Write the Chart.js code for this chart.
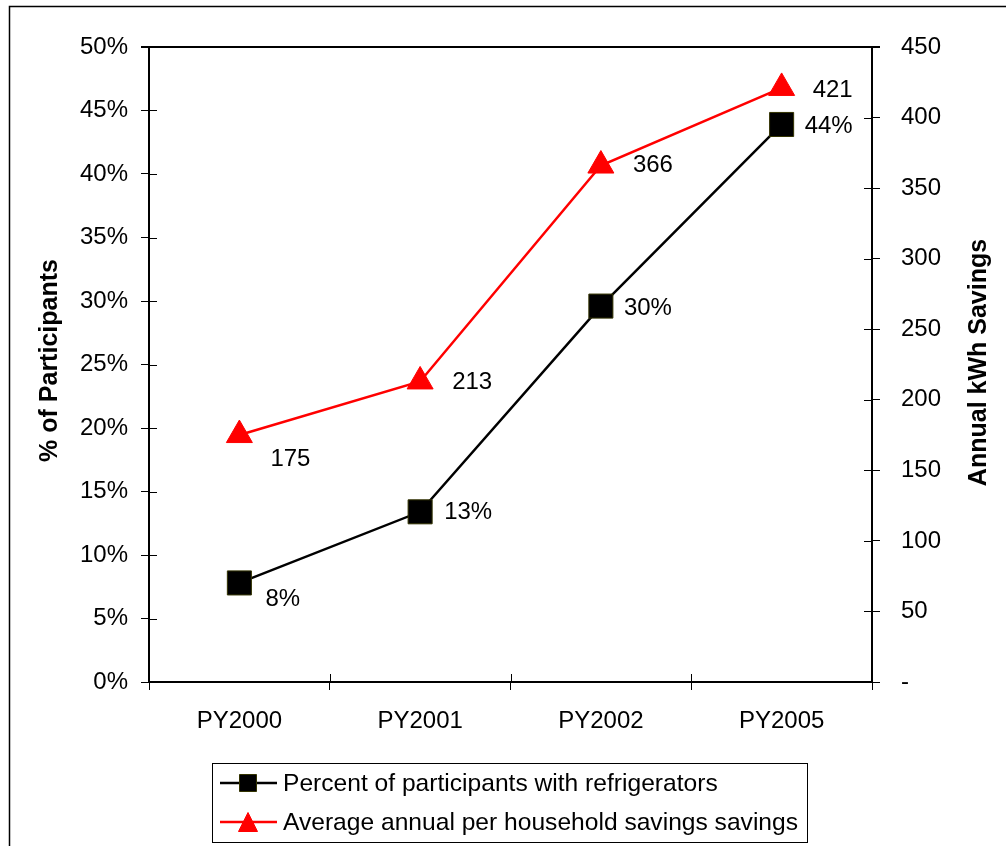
<!DOCTYPE html>
<html>
<head>
<meta charset="utf-8">
<script src="https://cdn.jsdelivr.net/npm/chart.js"></script>
<style>
  html, body { margin: 0; padding: 0; background: #fff; }
  #wrap { width: 1006px; height: 846px; }
</style>
</head>
<body>
<div id="wrap"><canvas id="fridgeChart" width="1006" height="846"></canvas></div>
<script>
// program years and the two series
const years = ["PY2000", "PY2001", "PY2002", "PY2005"];
const pctWithFridges = [7.8, 13.4, 29.6, 43.9];      // % of participants
const kwhSavings = [175, 213, 366, 421];             // annual kWh per household

const seriesNames = [
  "Percent of participants with refrigerators",
  "Average annual per household savings savings"
];
const axisTitles = ["% of Participants", "Annual kWh Savings"];

// axis ranges / tick steps
const pctMax = 50, pctStep = 5;
const kwhMax = 450, kwhStep = 50;

const FONT = "'Liberation Sans', Arial, sans-serif";

// label offsets next to each marker (px)
const labelOffsets = [
  [[26, 16], [24, 1], [23, 2], [23, 2]],
  [[31, 24], [32, 1], [32, 0], [31, 2]]
];

// white background and outer frame
const framePlugin = {
  id: "frame",
  beforeDraw(chart) {
    const ctx = chart.ctx;
    ctx.save();
    ctx.fillStyle = "#fff";
    ctx.fillRect(0, 0, chart.width, chart.height);
    ctx.strokeStyle = "#000";
    ctx.lineWidth = 1.5;
    ctx.strokeRect(9.5, 6.5, chart.width + 10, chart.height + 10);
    ctx.restore();
  }
};

// top border of plot + inner halves of the tick crosses
const axesPlugin = {
  id: "axesExtra",
  afterDraw(chart) {
    const { ctx, chartArea: a, scales } = chart;
    ctx.save();
    ctx.strokeStyle = "#000";
    ctx.lineWidth = 2;
    ctx.beginPath();
    ctx.moveTo(a.left - 8, a.top);
    ctx.lineTo(a.right + 8, a.top);
    ctx.stroke();

    ctx.lineWidth = 1;
    ctx.beginPath();
    scales.y.ticks.forEach((t, i) => {
      const y = Math.round(scales.y.getPixelForTick(i)) + 0.5;
      ctx.moveTo(a.left, y);
      ctx.lineTo(a.left + 8, y);
    });
    scales.y1.ticks.forEach((t, i) => {
      const y = Math.round(scales.y1.getPixelForTick(i)) + 0.5;
      ctx.moveTo(a.right - 8, y);
      ctx.lineTo(a.right, y);
    });
    const x0 = scales.x.getPixelForValue(0);
    const step = scales.x.getPixelForValue(1) - x0;
    for (let k = 0; k <= years.length; k++) {
      const x = Math.round(x0 - step / 2 + k * step) + 0.5;
      ctx.moveTo(x, a.bottom - 8);
      ctx.lineTo(x, a.bottom);
    }
    ctx.stroke();
    ctx.restore();
  }
};

// value labels beside the markers
const valueLabels = {
  id: "valueLabels",
  afterDatasetsDraw(chart) {
    const ctx = chart.ctx;
    ctx.save();
    ctx.font = "24px " + FONT;
    ctx.fillStyle = "#000";
    ctx.textAlign = "left";
    ctx.textBaseline = "middle";
    chart.data.datasets.forEach((ds, di) => {
      const meta = chart.getDatasetMeta(di);
      meta.data.forEach((pt, i) => {
        const v = ds.data[i];
        const txt = di === 0 ? v.toFixed(0) + "%" : String(v);
        const [dx, dy] = labelOffsets[di][i];
        ctx.fillText(txt, pt.x + dx, pt.y + dy);
      });
    });
    ctx.restore();
  }
};

// rotated axis titles (both read bottom to top)
const axisTitlePlugin = {
  id: "axisTitles",
  afterDraw(chart) {
    const { ctx, chartArea: a } = chart;
    const cy = (a.top + a.bottom) / 2;
    ctx.save();
    ctx.font = "bold 25px " + FONT;
    ctx.fillStyle = "#000";
    ctx.textAlign = "center";
    ctx.textBaseline = "middle";
    [[50, axisTitles[0], cy - 4], [979, axisTitles[1], cy - 2]].forEach(([x, t, y]) => {
      ctx.save();
      ctx.translate(x, y);
      ctx.rotate(-Math.PI / 2);
      ctx.fillText(t, 0, 0);
      ctx.restore();
    });
    ctx.restore();
  }
};

function drawMarker(ctx, style, x, y, size, fill, stroke) {
  ctx.fillStyle = fill;
  ctx.strokeStyle = stroke;
  ctx.lineWidth = 1;
  ctx.beginPath();
  if (style === "rect") {
    ctx.rect(x - size / 2, y - size / 2, size, size);
  } else {
    ctx.moveTo(x, y - size / 2);
    ctx.lineTo(x + size / 2, y + size / 2);
    ctx.lineTo(x - size / 2, y + size / 2);
    ctx.closePath();
  }
  ctx.fill();
  ctx.stroke();
}

// boxed legend under the plot
const boxLegend = {
  id: "boxLegend",
  afterDraw(chart) {
    const ctx = chart.ctx;
    const box = { x: 212.5, y: 763.5, w: 595, h: 79 };
    const rows = [783, 822];
    ctx.save();
    ctx.strokeStyle = "#000";
    ctx.lineWidth = 1;
    ctx.strokeRect(box.x, box.y, box.w, box.h);
    chart.data.datasets.forEach((ds, i) => {
      const y = rows[i];
      ctx.strokeStyle = ds.borderColor;
      ctx.lineWidth = 2.5;
      ctx.beginPath();
      ctx.moveTo(220, y);
      ctx.lineTo(277, y);
      ctx.stroke();
      drawMarker(ctx, ds.pointStyle, 248, y, i === 0 ? 17 : 19,
        ds.pointBackgroundColor, ds.pointBorderColor);
      ctx.fillStyle = "#000";
      ctx.font = "24.6px " + FONT;
      ctx.textAlign = "left";
      ctx.textBaseline = "middle";
      ctx.fillText(ds.label, 283, y + 1);
    });
    ctx.restore();
  }
};

const ctx = document.getElementById("fridgeChart").getContext("2d");

new Chart(ctx, {
  type: "line",
  data: {
    labels: years,
    datasets: [
      {
        label: seriesNames[0],
        data: pctWithFridges,
        yAxisID: "y",
        borderColor: "#000000",
        borderWidth: 2.5,
        pointStyle: "rect",
        pointRadius: 17,
        pointHoverRadius: 17,
        pointBackgroundColor: "#000000",
        pointBorderColor: "#333300",
        pointBorderWidth: 1,
        tension: 0,
        clip: false
      },
      {
        label: seriesNames[1],
        data: kwhSavings,
        yAxisID: "y1",
        borderColor: "#ff0000",
        borderWidth: 2.5,
        pointStyle: "triangle",
        pointRadius: 15,
        pointHoverRadius: 15,
        pointBackgroundColor: "#ff0000",
        pointBorderColor: "#ff0000",
        pointBorderWidth: 1,
        tension: 0,
        clip: false
      }
    ]
  },
  options: {
    responsive: false,
    animation: false,
    events: [],
    layout: { padding: { top: 47, left: 0, right: 0, bottom: 0 } },
    plugins: {
      legend: { display: false },
      tooltip: { enabled: false }
    },
    scales: {
      x: {
        offset: true,
        grid: { offset: true, drawOnChartArea: false, tickLength: 8, color: "#000", lineWidth: 1 },
        border: { color: "#000", width: 2 },
        ticks: { color: "#000", font: { family: FONT, size: 24 }, padding: 17, maxRotation: 0 },
        afterFit: s => { s.height = 846 - 682; }
      },
      y: {
        position: "left",
        min: 0,
        max: pctMax,
        grid: { drawOnChartArea: false, tickLength: 8, color: "#000", lineWidth: 1 },
        border: { color: "#000", width: 2 },
        ticks: {
          stepSize: pctStep,
          color: "#000",
          padding: 13,
          font: { family: FONT, size: 24 },
          callback: v => v + "%"
        },
        afterFit: s => { s.width = 149; }
      },
      y1: {
        position: "right",
        min: 0,
        max: kwhMax,
        grid: { drawOnChartArea: false, tickLength: 8, color: "#000", lineWidth: 1 },
        border: { color: "#000", width: 2 },
        ticks: {
          stepSize: kwhStep,
          color: "#000",
          padding: 21,
          font: { family: FONT, size: 24 },
          callback: v => (v === 0 ? "-" : v)
        },
        afterFit: s => { s.width = 1006 - 872; }
      }
    }
  },
  plugins: [framePlugin, axesPlugin, valueLabels, axisTitlePlugin, boxLegend]
});
</script>
</body>
</html>
